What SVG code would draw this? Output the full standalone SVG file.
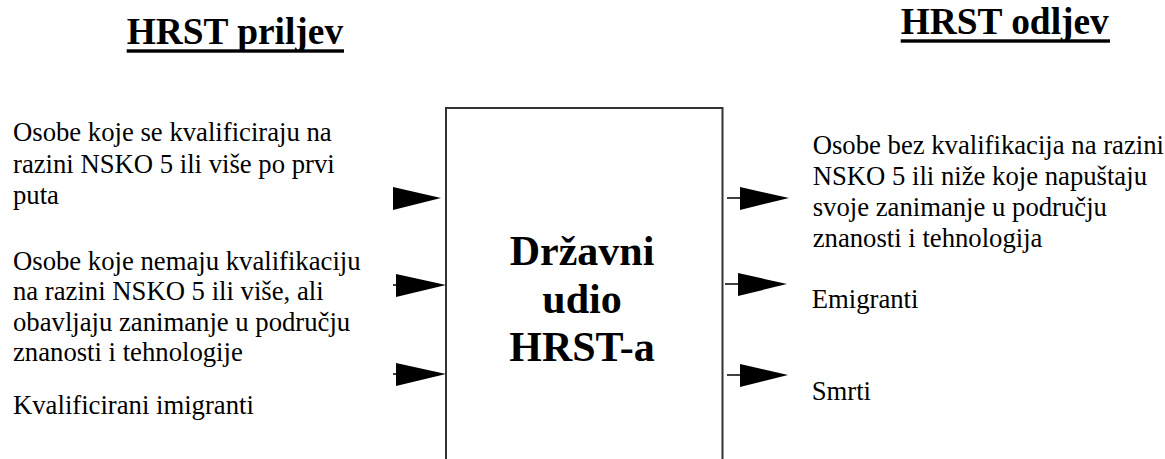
<svg xmlns="http://www.w3.org/2000/svg" width="1165" height="459" viewBox="0 0 1165 459">
<style>
.t{font-family:"Liberation Serif","Times New Roman",serif;font-size:26.7px;fill:#000}
.h{font-family:"Liberation Serif","Times New Roman",serif;font-size:37.4px;font-weight:bold;fill:#000}
.c{font-family:"Liberation Serif","Times New Roman",serif;font-size:42px;font-weight:bold;fill:#000;text-anchor:middle}
.ln{stroke:#000;stroke-width:1.5;fill:none}
.ah{fill:#000}
</style>
<rect width="1165" height="459" fill="#fff"/>
<g id="title-in">
<text class="h" x="126.7" y="44">HRST priljev</text>
<rect x="126.7" y="49.3" width="217.3" height="3.4" fill="#000"/>
</g>
<g id="title-out">
<text class="h" x="900.7" y="34.3">HRST odljev</text>
<rect x="900.7" y="39.3" width="209.3" height="3.4" fill="#000"/>
</g>
<g id="box">
<rect x="446" y="108" width="276.5" height="360" fill="#fff" stroke="#333" stroke-width="2"/>
<text class="c" x="582" y="265">Državni</text>
<text class="c" x="582" y="313">udio</text>
<text class="c" x="582" y="361">HRST-a</text>
</g>
<g id="in1"><text class="t" x="13" y="141"><tspan x="13">Osobe koje se kvalificiraju na</tspan><tspan x="13" dy="31.5">razini NSKO 5 ili više po prvi</tspan><tspan x="13" dy="31.5">puta</tspan></text></g>
<g id="in2"><text class="t" x="13" y="270"><tspan x="13">Osobe koje nemaju kvalifikaciju</tspan><tspan x="13" dy="30.3">na razini NSKO 5 ili više, ali</tspan><tspan x="13" dy="30.3">obavljaju zanimanje u području</tspan><tspan x="13" dy="30.3">znanosti i tehnologije</tspan></text></g>
<g id="in3"><text class="t" x="13" y="414">Kvalificirani imigranti</text></g>
<g id="out1"><text class="t" x="812.7" y="153.5"><tspan x="812.7">Osobe bez kvalifikacija na razini</tspan><tspan x="812.7" dy="31">NSKO 5 ili niže koje napuštaju</tspan><tspan x="812.7" dy="31">svoje zanimanje u području</tspan><tspan x="812.7" dy="31">znanosti i tehnologija</tspan></text></g>
<g id="out2"><text class="t" x="811.7" y="308.3">Emigranti</text></g>
<g id="out3"><text class="t" x="811.7" y="400">Smrti</text></g>
<g id="connectors">
<polygon class="ah" points="393,187 441,198 393,210"/>
<line class="ln" x1="393" y1="285" x2="400" y2="285"/>
<polygon class="ah" points="396,274 446,285 396,297"/>
<line class="ln" x1="393" y1="374" x2="400" y2="374"/>
<polygon class="ah" points="396,363 446,374 396,386"/>
<line class="ln" x1="727" y1="198" x2="742" y2="198"/>
<polygon class="ah" points="740,187 789,198 740,210"/>
<line class="ln" x1="725" y1="284" x2="740" y2="284"/>
<polygon class="ah" points="738,273 787,284 738,296"/>
<line class="ln" x1="727" y1="375" x2="742" y2="375"/>
<polygon class="ah" points="740,364 788,375 740,387"/>
</g>
</svg>
